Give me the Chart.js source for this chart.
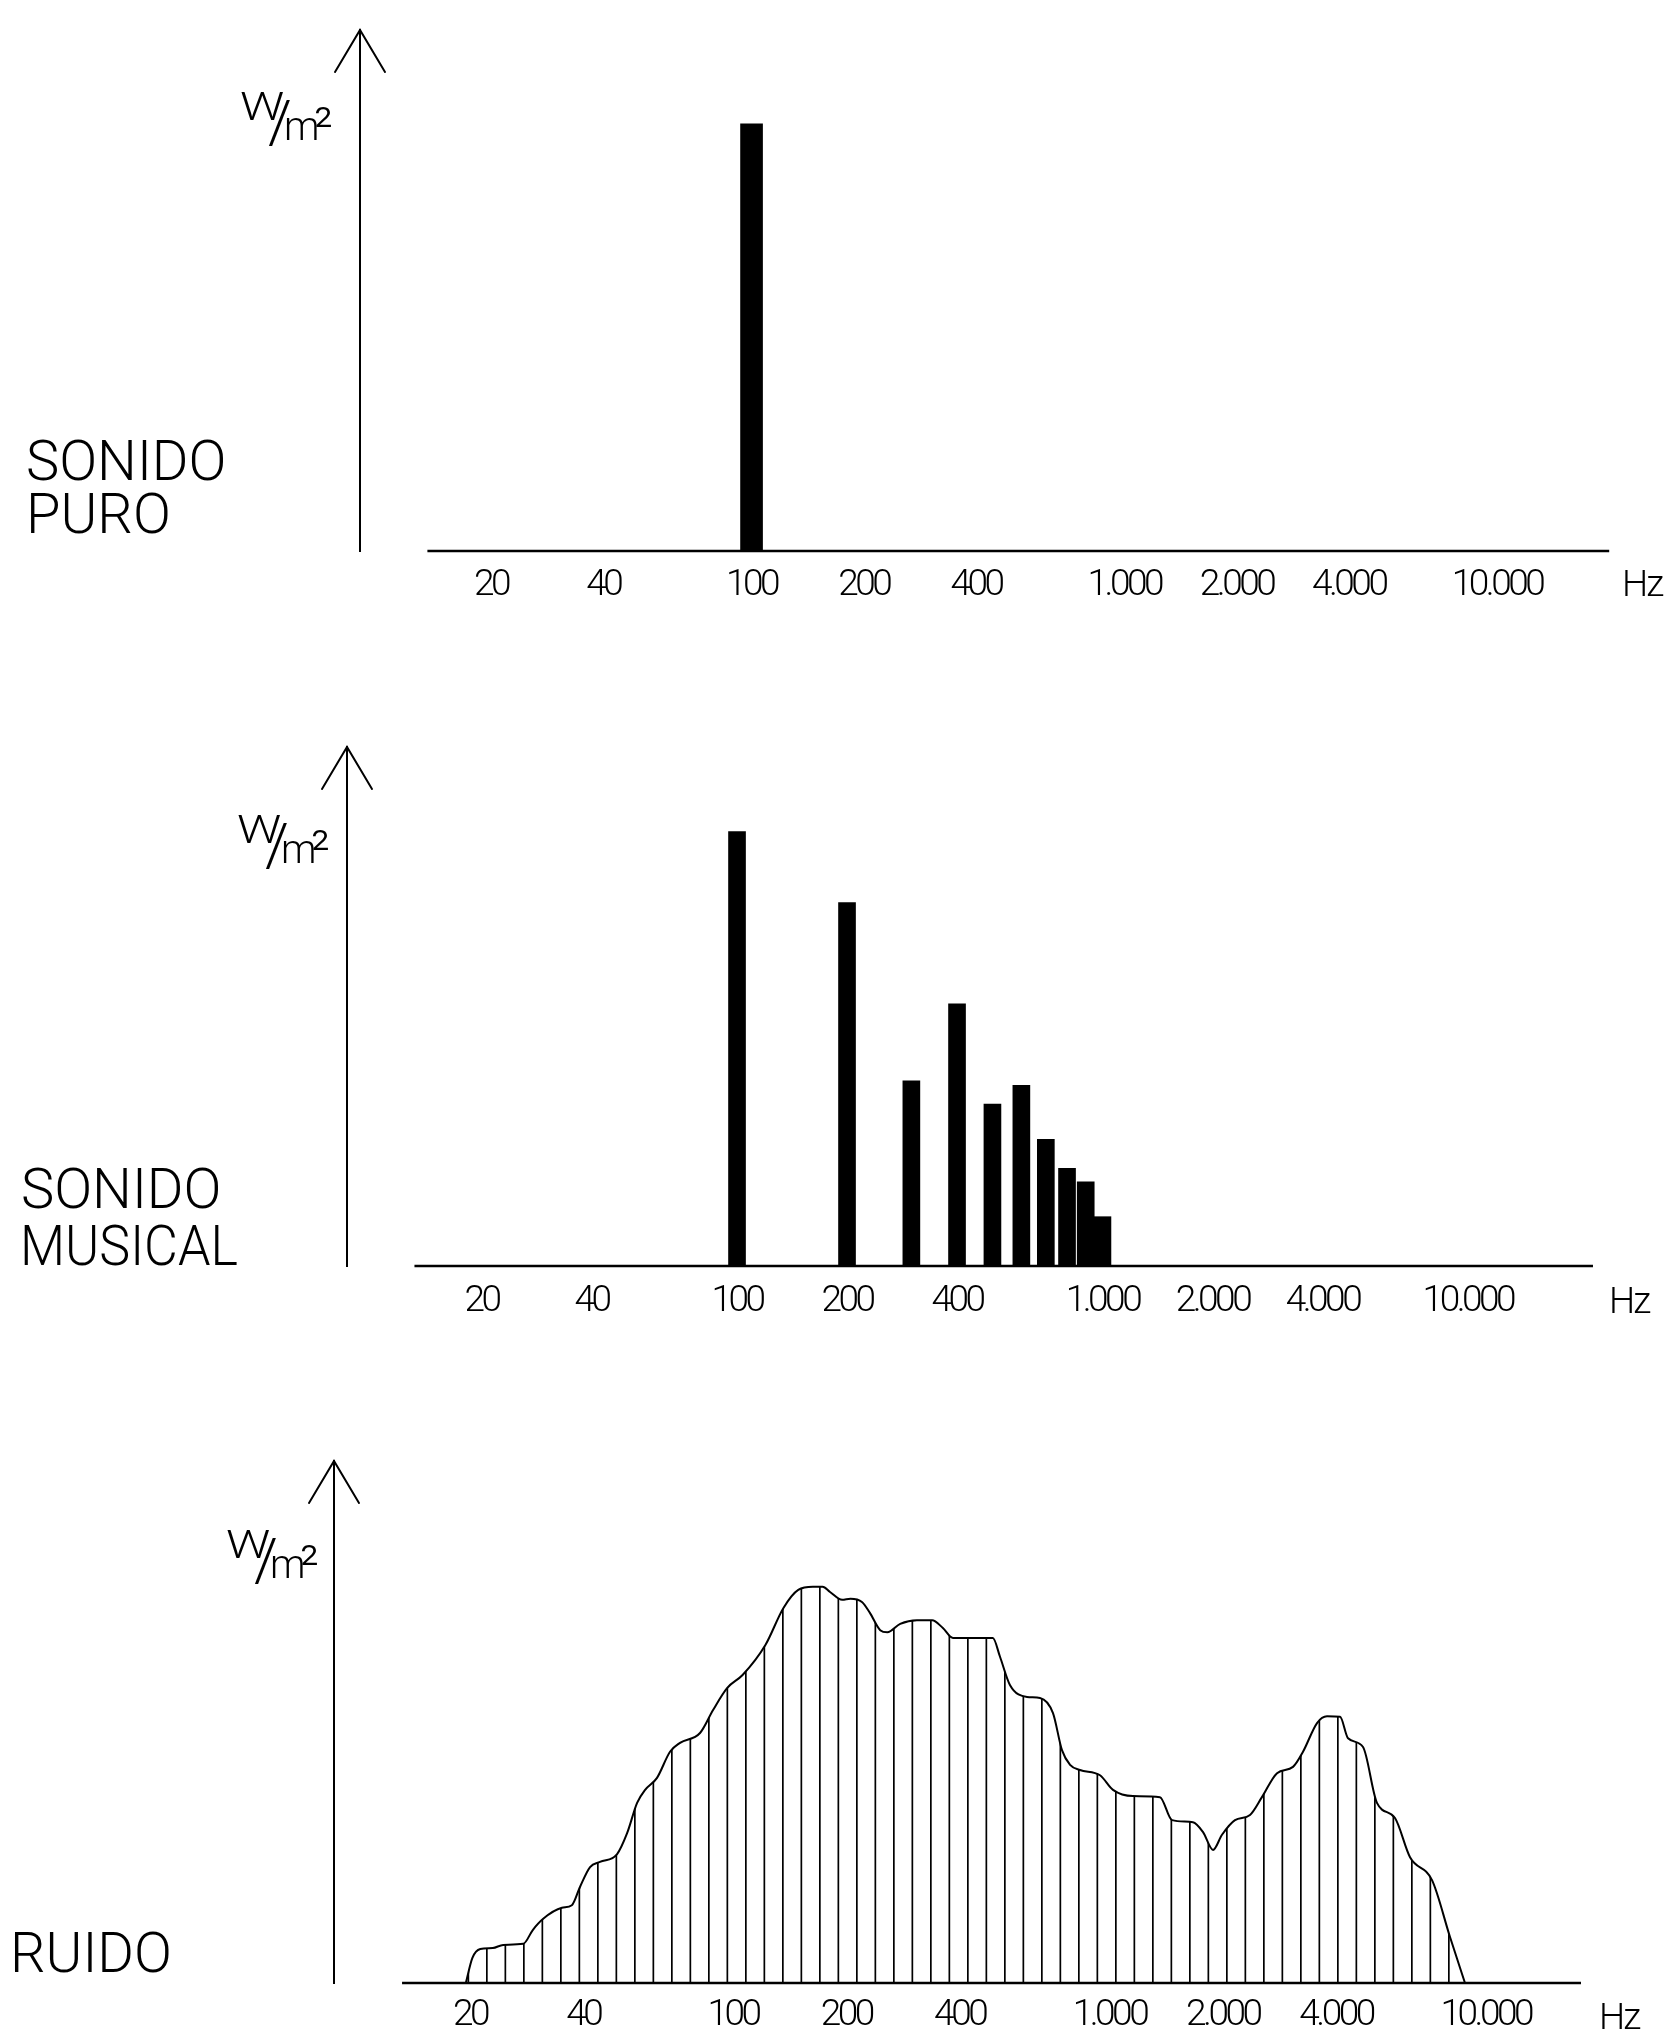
<!DOCTYPE html>
<html>
<head>
<meta charset="utf-8">
<script src="https://cdn.jsdelivr.net/npm/chart.js@4.4.1/dist/chart.umd.min.js"></script>
<style>
html, body { margin: 0; padding: 0; background: #fff; overflow: hidden; }
body { position: relative; width: 1666px; height: 2035px; }
canvas { position: absolute; left: 0; }
.side { position: absolute; font-family: Roboto, 'Liberation Sans', sans-serif; font-weight: 300; font-size: 56px; line-height: 56px; color: #000; white-space: nowrap; transform-origin: left top; }
.hz { position: absolute; font-family: Roboto, 'Liberation Sans', sans-serif; font-weight: 300; font-size: 37px; line-height: 37px; letter-spacing: -2px; color: #000; white-space: nowrap; }
.u { position: absolute; font-family: Roboto, 'Liberation Sans', sans-serif; font-weight: 300; color: #000; white-space: nowrap; transform-origin: left top; }
.uw { font-size: 38px; line-height: 38px; transform: scaleX(1.3); }
.us { font-size: 60px; line-height: 60px; }
.um { font-size: 40px; line-height: 40px; }
.u2 { font-size: 52px; line-height: 52px; }
</style>
</head>
<body>
<canvas id="c1" width="1666" height="621" style="top:0px"></canvas>
<canvas id="c2" width="1666" height="715" style="top:621px"></canvas>
<canvas id="c3" width="1666" height="699" style="top:1336px"></canvas>

<div class="side" style="left:26px;top:433px">SONIDO</div>
<div class="side" style="left:26px;top:486px">PURO</div>
<div class="side" style="left:21px;top:1161px">SONIDO</div>
<div class="side" style="left:20px;top:1218px;transform:scaleX(0.93)">MUSICAL</div>
<div class="side" style="left:10px;top:1925px">RUIDO</div>

<div class="u uw" style="left:240px;top:88px">W</div>
<div class="u us" style="left:268px;top:92px">/</div>
<div class="u um" style="left:284px;top:107px">m</div>
<div class="u u2" style="left:314px;top:101px">²</div>

<div class="u uw" style="left:237px;top:811px">W</div>
<div class="u us" style="left:265px;top:815px">/</div>
<div class="u um" style="left:281px;top:830px">m</div>
<div class="u u2" style="left:311px;top:824px">²</div>

<div class="u uw" style="left:226px;top:1526px">W</div>
<div class="u us" style="left:254px;top:1530px">/</div>
<div class="u um" style="left:270px;top:1545px">m</div>
<div class="u u2" style="left:300px;top:1539px">²</div>

<div class="hz" style="left:1622px;top:565px">Hz</div>
<div class="hz" style="left:1609px;top:1282px">Hz</div>
<div class="hz" style="left:1599px;top:1998px">Hz</div>

<script>
// ---------- data ----------
const TICK_VALUES = [20, 40, 100, 200, 400, 1000, 2000, 4000, 10000];
const TICK_LABELS = ['20', '40', '100', '200', '400', '1.000', '2.000', '4.000', '10.000'];

// Sonido puro: a single tone
const PURE_FREQ = [100];
const PURE_POWER = [82];

// Sonido musical: fundamental + harmonics
const MUSICAL_FREQ = [100, 200, 300, 400, 500, 600, 700, 800, 900, 1000];
const MUSICAL_POWER = [83.7, 70, 35.7, 50.5, 31.2, 34.8, 24.4, 18.8, 16.2, 9.5];

// Ruido: continuous spectrum
const NOISE_FREQ = [19.5, 20.3, 21.3, 23, 24.5, 27.7, 29.4, 31.3, 35.1, 37.3, 39.2, 41.7, 44.3, 49.2,
  52.3, 55.6, 58.4, 62.8, 68, 72.3, 81.7, 88.5, 96.4, 106, 122, 136, 149, 163, 173, 181, 195, 205,
  220, 231, 246, 257, 278, 308, 338, 361, 384, 490, 512, 544, 604, 654, 708, 748, 786, 835, 944,
  1022, 1155, 1362, 1467, 1667, 1773, 1885, 1991, 2156, 2363, 2542, 2788, 3074, 3268, 3561, 3785,
  4099, 4305, 4718, 5138, 5737, 6290, 7196, 8033, 8804];
const NOISE_POWER = [0, 4.8, 6.5, 6.7, 7.3, 7.5, 10.2, 12.3, 14.4, 14.9, 18.4, 22.2, 23.2, 24.7,
  28.7, 34.5, 37.0, 39.3, 44.3, 46.0, 47.9, 52.3, 56.5, 59.0, 64.8, 71.8, 75.3, 75.9, 75.9, 74.9, 73.4, 73.6,
  73.0, 70.9, 67.6, 67.2, 68.8, 69.5, 69.5, 68.0, 66.1, 66.1, 62.5, 57.1, 54.8, 54.6, 51.7, 44.6, 41.8, 40.8, 39.8,
  37.0, 35.8, 35.6, 31.2, 30.8, 28.9, 25.5, 28.4, 31.2, 32.2, 35.6, 40.2, 41.4, 44.3, 49.8, 51.1,
  51.0, 46.9, 45.2, 34.5, 31.6, 24.1, 19.7, 8.8, 0];

// frequency extent of each drawn horizontal axis line
const PURE_AXIS_LINE = [13.5, 20000];
const MUSICAL_AXIS_LINE = [13.1, 22000];
const NOISE_AXIS_LINE = [13.2, 17900];

// ---------- helpers ----------
const TICK_FONT = "Roboto, 'Liberation Sans', sans-serif";

const arrowHead = {
  id: 'arrowHead',
  beforeDraw(chart) {
    chart.ctx.letterSpacing = '-3.5px';
  },
  afterDraw(chart) {
    const { ctx, chartArea } = chart;
    const x = Math.round(chartArea.left), y = chartArea.top;
    ctx.save();
    ctx.strokeStyle = '#000';
    ctx.lineWidth = 2;
    ctx.lineCap = 'round';
    ctx.beginPath();
    ctx.moveTo(x - 25, y + 42);
    ctx.lineTo(x, y);
    ctx.lineTo(x + 25, y + 42);
    ctx.stroke();
    ctx.restore();
  }
};

function makeOptions(cfg) {
  return {
    responsive: false,
    animation: false,
    events: [],
    layout: { padding: { top: cfg.padTop, left: cfg.padLeft, right: 0, bottom: 0 } },
    plugins: { legend: { display: false }, tooltip: { enabled: false } },
    scales: {
      x: {
        type: 'logarithmic',
        min: cfg.xmin,
        max: cfg.xmax,
        offset: false,
        grid: { display: false, drawTicks: false },
        border: { display: false },
        afterBuildTicks: (s) => { s.ticks = TICK_VALUES.map(v => ({ value: v })); },
        afterFit: (s) => { s.height = cfg.xHeight; },
        ticks: {
          autoSkip: false, maxRotation: 0, minRotation: 0,
          padding: cfg.tickPad, color: '#000',
          font: { family: TICK_FONT, size: 37, weight: 300 },
          callback: (v) => { const i = TICK_VALUES.indexOf(Number(v)); return i >= 0 ? TICK_LABELS[i] : ''; }
        }
      },
      y: {
        type: 'linear', min: 0, max: 100,
        grid: { display: false, drawTicks: false },
        border: { display: true, color: '#000', width: 2 },
        ticks: { display: false },
        afterFit: (s) => { s.width = 0; }
      }
    }
  };
}

function axisLine(ext) {
  return {
    type: 'line',
    data: ext.map(f => ({ x: f, y: 0 })),
    borderColor: '#000', borderWidth: 2.5, pointRadius: 0, fill: false, clip: false, order: 2
  };
}

// ---------- chart 1: sonido puro ----------
new Chart(document.getElementById('c1'), {
  type: 'bar',
  data: {
    datasets: [
      axisLine(PURE_AXIS_LINE),
      { type: 'bar', data: PURE_FREQ.map((f, i) => ({ x: f, y: PURE_POWER[i] })),
        backgroundColor: '#000', borderWidth: 0, barThickness: 22, grouped: false, order: 1 }
    ]
  },
  options: makeOptions({ padTop: 30, padLeft: 360, xmin: 8.902, xmax: 28406, xHeight: 70, tickPad: 13 }),
  plugins: [arrowHead]
});

// ---------- chart 2: sonido musical ----------
new Chart(document.getElementById('c2'), {
  type: 'bar',
  data: {
    datasets: [
      axisLine(MUSICAL_AXIS_LINE),
      { type: 'bar', data: MUSICAL_FREQ.map((f, i) => ({ x: f, y: MUSICAL_POWER[i] })),
        backgroundColor: '#000', borderWidth: 0, barThickness: 17, grouped: false, order: 1 }
    ]
  },
  options: makeOptions({ padTop: 126, padLeft: 347, xmin: 8.564, xmax: 34853, xHeight: 70, tickPad: 14 }),
  plugins: [arrowHead]
});

// ---------- chart 3: ruido ----------
const c3 = document.getElementById('c3');
const pc = document.createElement('canvas');
pc.width = 37; pc.height = 4;
const pctx = pc.getContext('2d');
pctx.fillStyle = '#000';
pctx.fillRect(5, 0, 1.7, 4);
pctx.fillRect(23.5, 0, 1.7, 4);
const hatch = c3.getContext('2d').createPattern(pc, 'repeat');

new Chart(c3, {
  type: 'line',
  data: {
    datasets: [
      axisLine(NOISE_AXIS_LINE),
      { type: 'line', data: NOISE_FREQ.map((f, i) => ({ x: f, y: NOISE_POWER[i] })),
        borderColor: '#000', borderWidth: 2, pointRadius: 0,
        fill: 'origin', backgroundColor: hatch,
        cubicInterpolationMode: 'monotone', order: 1 }
    ]
  },
  options: makeOptions({ padTop: 125, padLeft: 334, xmin: 8.705, xmax: 30112, xHeight: 52, tickPad: 11 }),
  plugins: [arrowHead]
});
</script>
</body>
</html>
